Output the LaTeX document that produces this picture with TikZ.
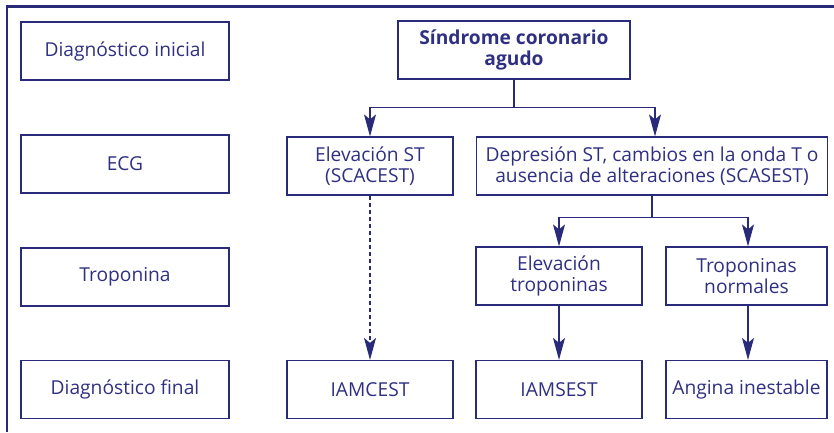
\documentclass[tikz,border=0pt]{standalone}
\usepackage{fontspec}
\setmainfont{Open Sans}
\usetikzlibrary{arrows.meta}
\definecolor{navy}{RGB}{42,42,122}
\definecolor{txt}{RGB}{48,48,130}
\begin{document}
\begin{tikzpicture}[x=1pt,y=-1pt,
  box/.style={draw=navy, line width=1.2pt, inner sep=0pt, minimum height=58pt, align=center, text=txt, font=\fontsize{19.2}{21.5}\selectfont},
  arr/.style={-{Stealth[length=22pt,width=12pt,inset=5pt]}},
  conn/.style={draw=navy, line width=1.2pt}]
\useasboundingbox (0,0) rectangle (834,432);
\draw[navy, line width=2.4pt] (7,432) -- (7,6.5) -- (834,6.5);
% labels
\node[box, minimum width=208pt] (l1) at (125,51) {Diagnóstico inicial};
\node[box, minimum width=208pt] (l2) at (125,164) {ECG};
\node[box, minimum width=208pt] (l3) at (125,277) {Troponina};
\node[box, minimum width=208pt] (l4) at (125,389.5) {Diagnóstico final};
% flow
\node[box, minimum width=232pt, font=\fontsize{19.2}{21.5}\selectfont\bfseries] (sca) at (514,50) {Síndrome coronario\\agudo};
\node[box, minimum width=166pt] (elev) at (370,166) {Elevación ST\\(SCACEST)};
\node[box, minimum width=351pt] (dep) at (652,166) {Depresión ST, cambios en la onda T o\\ausencia de alteraciones (SCASEST)};
\node[box, minimum width=166pt] (etrop) at (559,276) {Elevación\\troponinas};
\node[box, minimum width=161pt] (tnorm) at (746.5,276) {Troponinas\\normales};
\node[box, minimum width=166pt] (iamcest) at (370,389.5) {IAMCEST};
\node[box, minimum width=166pt] (iamsest) at (559,389.5) {IAMSEST};
\node[box, minimum width=161pt] (angina) at (746.5,389.5) {Angina inestable};
% connectors
\coordinate (j1) at ([yshift=-28pt]sca.south);
\coordinate (j2) at ([yshift=-22pt]dep.south);
\draw[conn] (sca.south) -- (j1);
\draw[conn, arr] (j1) -| (elev.north);
\draw[conn, arr] (j1) -| ([xshift=3pt]dep.north);
\draw[conn] (dep.south) -- (j2);
\draw[conn, arr] (j2) -| (etrop.north);
\draw[conn, arr] (j2) -| ([xshift=1.5pt]tnorm.north);
\draw[conn, arr, dash pattern=on 4pt off 3pt] (elev.south) -- (iamcest.north);
\draw[conn, arr] (etrop.south) -- (iamsest.north);
\draw[conn, arr] ([xshift=1.5pt]tnorm.south) -- ([xshift=1.5pt]angina.north);
\end{tikzpicture}
\end{document}
